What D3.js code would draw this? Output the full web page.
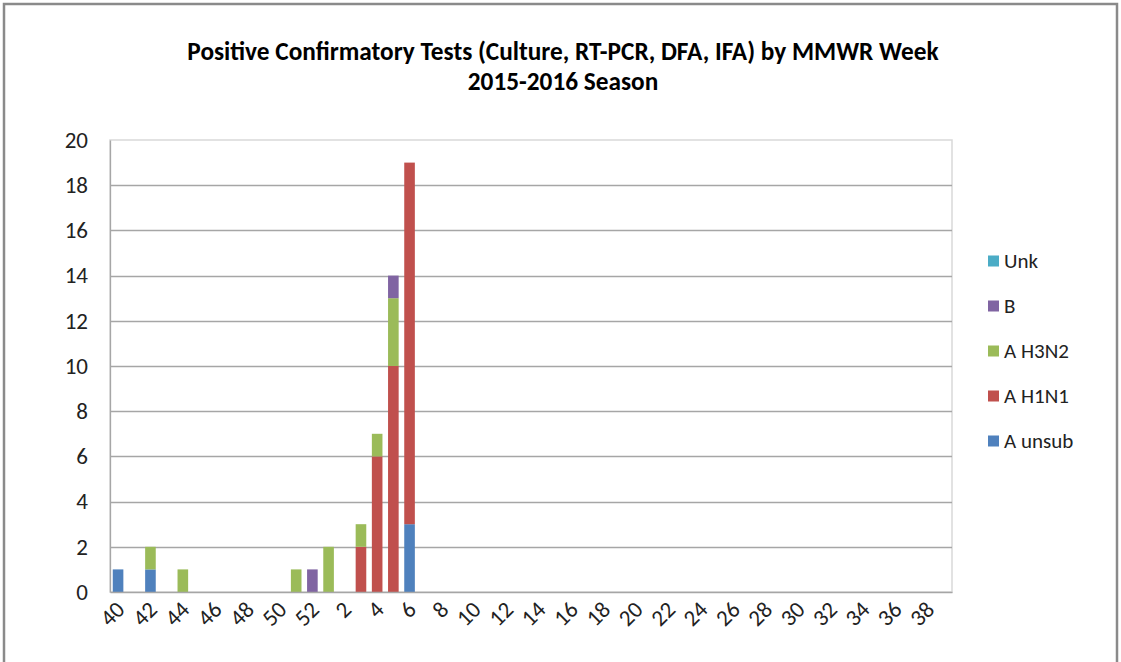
<!DOCTYPE html>
<html>
<head>
<meta charset="utf-8">
<script src="https://cdn.jsdelivr.net/npm/d3@7"></script>
<style>
  html, body { margin: 0; padding: 0; background: #fff; }
  svg { display: block; font-family: Calibri, Carlito, Lato, "Open Sans", sans-serif; }
</style>
</head>
<body>
<svg id="chart" width="1121" height="662"></svg>
<script>
// MMWR weeks of the 2015-2016 season
const weeks = [40, 41, 42, 43, 44, 45, 46, 47, 48, 49, 50, 51, 52,
  1, 2, 3, 4, 5, 6, 7, 8, 9, 10, 11, 12, 13, 14, 15, 16, 17, 18, 19, 20,
  21, 22, 23, 24, 25, 26, 27, 28, 29, 30, 31, 32, 33, 34, 35, 36, 37, 38, 39];

//                40 41 42 43 44 45 46 47 48 49 50 51 52  1  2  3  4  5  6  7 ...
const aUnsub = [1, 0, 1, 0, 0, 0, 0, 0, 0, 0, 0, 0, 0, 0, 0, 0, 0, 0, 3, 0, 0, 0, 0, 0, 0, 0, 0, 0, 0, 0, 0, 0, 0, 0, 0, 0, 0, 0, 0, 0, 0, 0, 0, 0, 0, 0, 0, 0, 0, 0, 0, 0];
const aH1N1  = [0, 0, 0, 0, 0, 0, 0, 0, 0, 0, 0, 0, 0, 0, 0, 2, 6, 10, 16, 0, 0, 0, 0, 0, 0, 0, 0, 0, 0, 0, 0, 0, 0, 0, 0, 0, 0, 0, 0, 0, 0, 0, 0, 0, 0, 0, 0, 0, 0, 0, 0, 0];
const aH3N2  = [0, 0, 1, 0, 1, 0, 0, 0, 0, 0, 0, 1, 0, 2, 0, 1, 1, 3, 0, 0, 0, 0, 0, 0, 0, 0, 0, 0, 0, 0, 0, 0, 0, 0, 0, 0, 0, 0, 0, 0, 0, 0, 0, 0, 0, 0, 0, 0, 0, 0, 0, 0];
const fluB   = [0, 0, 0, 0, 0, 0, 0, 0, 0, 0, 0, 0, 1, 0, 0, 0, 0, 1, 0, 0, 0, 0, 0, 0, 0, 0, 0, 0, 0, 0, 0, 0, 0, 0, 0, 0, 0, 0, 0, 0, 0, 0, 0, 0, 0, 0, 0, 0, 0, 0, 0, 0];
const unk    = [0, 0, 0, 0, 0, 0, 0, 0, 0, 0, 0, 0, 0, 0, 0, 0, 0, 0, 0, 0, 0, 0, 0, 0, 0, 0, 0, 0, 0, 0, 0, 0, 0, 0, 0, 0, 0, 0, 0, 0, 0, 0, 0, 0, 0, 0, 0, 0, 0, 0, 0, 0];

const seriesNames = ["A unsub", "A H1N1", "A H3N2", "B", "Unk"];
const seriesColors = ["#4F81BD", "#C0504D", "#9BBB59", "#8064A2", "#4BACC6"];
const yTicks = [0, 2, 4, 6, 8, 10, 12, 14, 16, 18, 20];

const titleLines = [
  "Positive Confirmatory Tests (Culture, RT-PCR, DFA, IFA) by MMWR Week",
  "2015-2016 Season"
];

const svg = d3.select("#chart");
const W = 1121, H = 662;
const plot = { left: 110, right: 952, top: 140, bottom: 592 };
const FONT = "Calibri, Carlito, Lato, sans-serif";

// table the stack layout needs
const rows = weeks.map((w, i) => ({
  week: String(w),
  "A unsub": aUnsub[i],
  "A H1N1": aH1N1[i],
  "A H3N2": aH3N2[i],
  "B": fluB[i],
  "Unk": unk[i]
}));

const x = d3.scaleBand()
  .domain(rows.map((d) => d.week))
  .range([plot.left, plot.right])
  .paddingInner(0.345)
  .paddingOuter(0.17);

const y = d3.scaleLinear()
  .domain([0, 20])
  .range([plot.bottom, plot.top]);

const color = d3.scaleOrdinal().domain(seriesNames).range(seriesColors);

// outer chart frame
svg.append("rect")
  .attr("x", 4).attr("y", 4)
  .attr("width", W - 8).attr("height", H + 20)
  .attr("fill", "#fff")
  .attr("stroke", "#8a8a8a")
  .attr("stroke-width", 2.5);

// title
svg.append("g")
  .selectAll("text")
  .data(titleLines)
  .join("text")
  .attr("x", 563)
  .attr("y", (d, i) => 60 + i * 30)
  .attr("text-anchor", "middle")
  .attr("font-size", 25.3)
  .attr("font-weight", "bold")
  .attr("fill", "#000")
  .text((d) => d);

// plot area border
svg.append("rect")
  .attr("x", plot.left).attr("y", plot.top)
  .attr("width", plot.right - plot.left)
  .attr("height", plot.bottom - plot.top)
  .attr("fill", "none")
  .attr("stroke", "#d9d9d9")
  .attr("stroke-width", 1.5);

// gridlines
svg.append("g")
  .selectAll("line")
  .data(yTicks.filter((t) => t > 0 && t < 20))
  .join("line")
  .attr("x1", plot.left).attr("x2", plot.right)
  .attr("y1", (d) => Math.round(y(d)) + 0.5)
  .attr("y2", (d) => Math.round(y(d)) + 0.5)
  .attr("stroke", "#a6a6a6")
  .attr("stroke-width", 1.3);

// y axis
const yAxis = svg.append("g")
  .attr("transform", `translate(${plot.left},0)`)
  .call(d3.axisLeft(y).tickValues(yTicks).tickSize(0).tickPadding(22));
yAxis.select(".domain").attr("stroke", "#a6a6a6").attr("stroke-width", 1.3);
yAxis.selectAll("text")
  .attr("font-size", 23)
  .attr("fill", "#222")
  .attr("font-family", FONT);

// stacked bars
const stacked = d3.stack().keys(seriesNames)(rows);
svg.append("g")
  .selectAll("g")
  .data(stacked)
  .join("g")
  .attr("fill", (s) => color(s.key))
  .selectAll("rect")
  .data((s) => s.filter((d) => d[1] > d[0]))
  .join("rect")
  .attr("x", (d) => x(d.data.week))
  .attr("width", x.bandwidth())
  .attr("y", (d) => y(d[1]))
  .attr("height", (d) => y(d[0]) - y(d[1]));

// x axis
const xAxis = svg.append("g")
  .attr("transform", `translate(0,${plot.bottom})`)
  .call(d3.axisBottom(x)
    .tickValues(rows.filter((d, i) => i % 2 === 0).map((d) => d.week))
    .tickSize(0)
    .tickPadding(0));
xAxis.select(".domain").attr("stroke", "#a6a6a6").attr("stroke-width", 1.5);
xAxis.selectAll("text")
  .attr("font-size", 23)
  .attr("fill", "#222")
  .attr("font-family", FONT)
  .attr("text-anchor", "end")
  .attr("dy", 0)
  .attr("transform", "translate(8,19) rotate(-45)");

// legend (top to bottom reversed order of the stack)
const legendItems = seriesNames.slice().reverse();
const legend = svg.append("g")
  .selectAll("g")
  .data(legendItems)
  .join("g")
  .attr("transform", (d, i) => `translate(988,${261 + i * 45})`);
legend.append("rect")
  .attr("x", 0).attr("y", -5.5)
  .attr("width", 11).attr("height", 11)
  .attr("fill", (d) => color(d));
legend.append("text")
  .attr("x", 16)
  .attr("y", 0)
  .attr("dy", "0.35em")
  .attr("font-size", 21)
  .attr("fill", "#222")
  .text((d) => d);
</script>
</body>
</html>
